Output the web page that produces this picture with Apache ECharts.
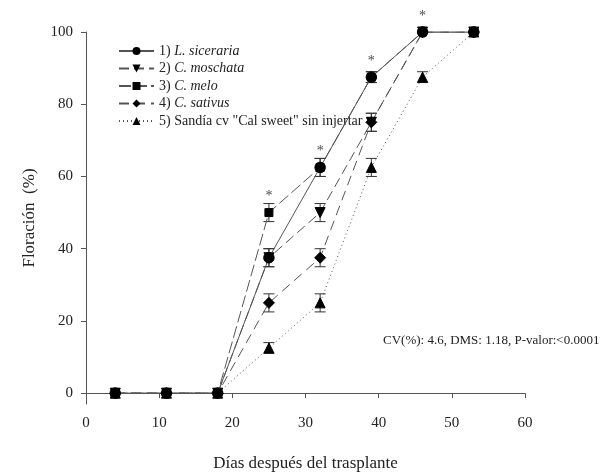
<!DOCTYPE html>
<html><head><meta charset="utf-8">
<script src="https://cdn.jsdelivr.net/npm/echarts@6/dist/echarts.min.js"></script>
<style>html,body{margin:0;padding:0;background:#fff}#c{width:615px;height:472px}</style>
</head><body><div id="c"></div>
<script>
const days = [4, 11, 18, 25, 32, 39, 46, 53];
const names = ['1) L. siceraria', '2) C. moschata', '3) C. melo', '4) C. sativus', '5) Sandía cv "Cal sweet" sin injertar'];
const siceraria = [0, 0, 0, 37.5, 62.5, 87.5, 100, 100];
const moschata  = [0, 0, 0, 37.5, 50, 75, 100, 100];
const melo      = [0, 0, 0, 50, 62.5, 87.5, 100, 100];
const sativus   = [0, 0, 0, 25, 37.5, 75, 100, 100];
const sandia    = [0, 0, 0, 12.5, 25, 62.5, 87.5, 100];
const errSiceraria = [0, 0, 0, 2.5, 2.5, 1.5, 0, 0];
const errMoschata  = [0, 0, 0, 2.5, 2.5, 2.5, 0, 0];
const errMelo      = [0, 0, 0, 2.5, 2.5, 1.5, 0, 0];
const errSativus   = [0, 0, 0, 2.5, 2.5, 2.5, 0, 0];
const errSandia    = [0, 0, 0, 1.5, 2.5, 2.5, 1.5, 0];
const starDays = [25, 32, 39, 46];
const starValues = [50, 62.5, 87.5, 100];
const yTicks = [0, 20, 40, 60, 80, 100];
const xTicks = [0, 10, 20, 30, 40, 50, 60];
const annotation = 'CV(%): 4.6, DMS: 1.18, P-valor:<0.0001';

const font = '"Liberation Serif","Times New Roman",serif';
const lineColor = '#555';

function pts(vals) { return days.map((d, i) => [d, vals[i]]); }
function errPts(vals, errs) { return days.map((d, i) => [d, vals[i], errs[i]]); }

function errSeries(vals, errs) {
  return {
    type: 'custom', silent: true, z: 3,
    data: errPts(vals, errs),
    renderItem: function (params, api) {
      const e = api.value(2);
      if (!e) return null;
      const x = api.value(0), y = api.value(1);
      const top = api.coord([x, y + e]);
      const bot = api.coord([x, y - e]);
      const w = 5.5;
      const st = { stroke: '#333', lineWidth: 1 };
      return { type: 'group', children: [
        { type: 'line', shape: { x1: top[0], y1: top[1], x2: bot[0], y2: bot[1] }, style: st },
        { type: 'line', shape: { x1: top[0] - w, y1: top[1], x2: top[0] + w, y2: top[1] }, style: st },
        { type: 'line', shape: { x1: bot[0] - w, y1: bot[1], x2: bot[0] + w, y2: bot[1] }, style: st }
      ]};
    }
  };
}

function lineSeries(name, vals, symbol, dash, z, extra) {
  return Object.assign({
    name: name, type: 'line', data: pts(vals), symbol: symbol, symbolSize: 9,
    showSymbol: true, z: z,
    lineStyle: { color: lineColor, width: 1, type: dash },
    itemStyle: { color: '#000', borderColor: '#000' },
    emphasis: { disabled: true }, animation: false
  }, extra || {});
}

const chart = echarts.init(document.getElementById('c'), null, { renderer: 'canvas' });
chart.setOption({
  animation: false,
  backgroundColor: '#fff',
  grid: { left: 86, right: 90, top: 32, bottom: 68, containLabel: false, outerBoundsMode: 'none' },
  xAxis: {
    type: 'value', min: 0, max: 60, interval: 10,
    name: 'Días después del trasplante', nameLocation: 'middle', nameGap: 51,
    nameTextStyle: { fontFamily: font, fontSize: 17, color: '#222' },
    axisLine: { lineStyle: { color: '#555', width: 1 } },
    axisTick: { show: true, length: 5, inside: false, lineStyle: { color: '#555' } },
    axisLabel: { fontFamily: font, fontSize: 15, color: '#222', margin: 12,
      customValues: xTicks },
    splitLine: { show: false }
  },
  yAxis: {
    type: 'value', min: -3, max: 100,
    name: 'Floración  (%)', nameLocation: 'middle', nameGap: 48, nameRotate: 90,
    nameTextStyle: { fontFamily: font, fontSize: 17, color: '#222' },
    axisLine: { show: true, lineStyle: { color: '#555', width: 1 } },
    axisTick: { show: true, length: 5, inside: false, lineStyle: { color: '#555' }, customValues: yTicks },
    axisLabel: { fontFamily: font, fontSize: 15, color: '#222', margin: 13, customValues: yTicks },
    splitLine: { show: false }
  },
  legend: {
    orient: 'vertical', left: 113, top: 39,
    itemWidth: 35, itemHeight: 10, itemGap: 3.5,
    data: names,
    textStyle: { fontFamily: font, fontSize: 14, color: '#222', lineHeight: 14,
      rich: { n: { fontFamily: font, fontSize: 14, color: '#222', lineHeight: 14 },
              i: { fontFamily: font, fontSize: 14, color: '#222', fontStyle: 'italic', lineHeight: 14 } } },
    formatter: function (name) {
      const m = name.match(/^(\d\) )(.*)$/);
      if (name.indexOf('Sandía') >= 0) return '{n|' + name + '}';
      return '{n|' + m[1] + '}{i|' + m[2] + '}';
    },
    selectedMode: false
  },
  graphic: [{
    type: 'text', left: 383, top: 334,
    style: { text: annotation, fontFamily: font, fontSize: 13, fill: '#222' }
  }],
  series: [
    errSeries(sandia, errSandia),
    errSeries(sativus, errSativus),
    errSeries(moschata, errMoschata),
    errSeries(melo, errMelo),
    errSeries(siceraria, errSiceraria),
    lineSeries(names[4], sandia, 'triangle', [1, 3], 4, { symbolSize: 10 }),
    lineSeries(names[3], sativus, 'diamond', [10, 6], 5, { symbolSize: 11 }),
    lineSeries(names[1], moschata, 'triangle', [10, 5], 6, { symbolRotate: 180, symbolSize: 10 }),
    lineSeries(names[2], melo, 'rect', [12, 4], 7, { symbolSize: 8 }),
    lineSeries(names[0], siceraria, 'circle', 'solid', 8, { symbolSize: 10.5 }),
    {
      type: 'scatter', silent: true, z: 9, symbolSize: 0,
      data: starDays.map((d, i) => [d, starValues[i]]),
      label: { show: true, position: 'inside', offset: [0, -16], formatter: '*',
        fontFamily: font, fontSize: 14, color: '#111' }
    }
  ]
});
</script></body></html>
